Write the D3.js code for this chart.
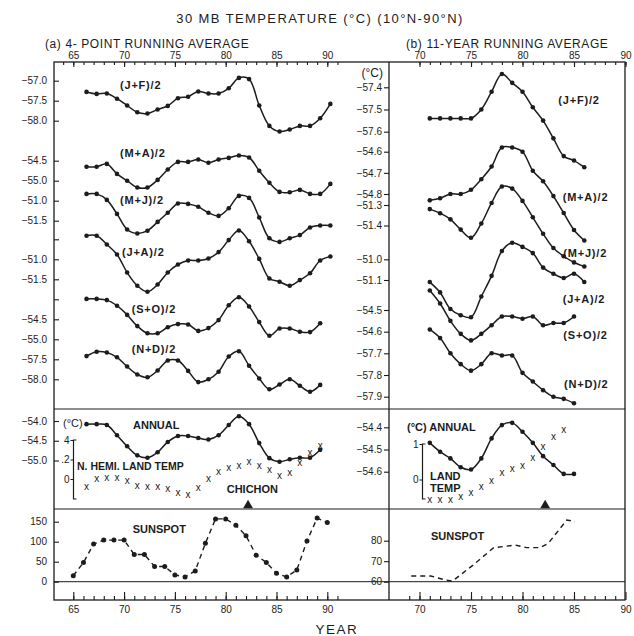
<!DOCTYPE html>
<html>
<head>
<meta charset="utf-8">
<script src="https://cdn.jsdelivr.net/npm/d3@7"></script>
<style>
  body { margin: 0; background: #fff; }
  svg text { font-family: "Liberation Sans", Arial, sans-serif; fill: #1c1c1c; }
</style>
</head>
<body>
<svg id="chart" width="634" height="636"></svg>
<script>
// ---- data ----
// (a) 4-point running average, one point per year from 66
const yearsA = [66,67,68,69,70,71,72,73,74,75,76,77,78,79,80,81,82,83,84,85,86,87,88,89,90]
const jfA = [-57.28,-57.33,-57.32,-57.45,-57.62,-57.79,-57.82,-57.72,-57.63,-57.44,-57.40,-57.27,-57.32,-57.32,-57.19,-56.93,-56.96,-57.62,-58.13,-58.27,-58.22,-58.13,-58.13,-57.94,-57.58]
const maA = [-54.65,-54.65,-54.58,-54.83,-55.00,-55.17,-55.17,-54.98,-54.72,-54.53,-54.53,-54.47,-54.55,-54.47,-54.43,-54.37,-54.42,-54.75,-55.05,-55.28,-55.29,-55.23,-55.33,-55.33,-55.08]
const mjA = [-50.83,-50.83,-50.98,-51.33,-51.72,-51.82,-51.75,-51.53,-51.30,-51.07,-51.08,-51.15,-51.30,-51.38,-51.19,-50.88,-50.93,-51.42,-51.94,-52.03,-51.94,-51.86,-51.67,-51.62,-51.62]
const jaA = [-50.41,-50.41,-50.63,-50.88,-51.33,-51.66,-51.81,-51.63,-51.33,-51.13,-51.03,-51.03,-50.98,-50.82,-50.52,-50.28,-50.55,-50.99,-51.48,-51.56,-51.66,-51.52,-51.35,-51.03,-50.93]
const soA = [-53.99,-53.99,-54.02,-54.16,-54.39,-54.67,-54.85,-54.85,-54.70,-54.62,-54.63,-54.79,-54.72,-54.52,-54.15,-53.95,-54.18,-54.57,-54.91,-54.73,-54.73,-54.81,-54.82,-54.60]
const ndA = [-57.42,-57.31,-57.33,-57.45,-57.68,-57.88,-57.95,-57.78,-57.53,-57.53,-57.79,-58.07,-58.00,-57.81,-57.43,-57.30,-57.66,-57.98,-58.25,-58.13,-58.00,-58.16,-58.31,-58.14]
const annualA = [-54.08,-54.08,-54.10,-54.36,-54.64,-54.87,-54.93,-54.79,-54.53,-54.38,-54.38,-54.43,-54.47,-54.36,-54.10,-53.88,-54.08,-54.56,-54.94,-55.03,-54.97,-54.93,-54.93,-54.73]
const landA = [-0.08,0.00,0.01,0.01,-0.02,-0.07,-0.08,-0.08,-0.10,-0.14,-0.16,-0.09,0.00,0.07,0.12,0.14,0.18,0.14,0.09,0.03,0.06,0.17,0.27,0.34]
const sunYearsA = [65,66,67,68,69,70,71,72,73,74,75,76,77,78,79,80,81,82,83,84,85,86,87,88,89,90]
const sunA = [15,48,94,104,104,104,68,68,38,38,17,12,27,96,157,157,141,115,66,48,21,12,29,102,159,148]

// (b) 11-year running average, one point per year from 71
const yearsB = [71,72,73,74,75,76,77,78,79,80,81,82,83,84,85,86]
const jfB = [-57.54,-57.54,-57.54,-57.54,-57.54,-57.50,-57.42,-57.34,-57.38,-57.42,-57.49,-57.55,-57.63,-57.71,-57.73,-57.76]
const maB = [-54.83,-54.82,-54.80,-54.80,-54.78,-54.73,-54.67,-54.58,-54.58,-54.60,-54.69,-54.74,-54.81,-54.89,-54.97,-55.02]
const mjB = [-51.32,-51.34,-51.37,-51.42,-51.46,-51.39,-51.29,-51.21,-51.22,-51.28,-51.36,-51.44,-51.51,-51.55,-51.58,-51.60]
const jaB = [-51.11,-51.16,-51.24,-51.27,-51.28,-51.18,-51.08,-50.96,-50.92,-50.94,-50.97,-51.04,-51.07,-51.09,-51.07,-51.11]
const soB = [-54.41,-54.47,-54.55,-54.61,-54.64,-54.61,-54.57,-54.53,-54.53,-54.54,-54.53,-54.57,-54.56,-54.56,-54.53]
const ndB = [-57.59,-57.63,-57.70,-57.75,-57.78,-57.75,-57.70,-57.71,-57.71,-57.79,-57.83,-57.87,-57.90,-57.91,-57.93]
const annualB = [-54.47,-54.51,-54.54,-54.58,-54.59,-54.54,-54.45,-54.39,-54.38,-54.42,-54.47,-54.53,-54.57,-54.61,-54.61]
const landB = [-0.57,-0.57,-0.57,-0.50,-0.38,-0.21,-0.03,0.18,0.30,0.39,0.60,0.91,1.19,1.40]
const sunYearsB = [69.2,71.1,72.6,73.2,75.2,77.2,78.1,79.3,80.4,81.7,82.5,84.3,85.1]
const sunB = [62.8,62.8,60.7,60.3,68.1,76.6,77.1,77.9,76.6,76.6,78.7,90.1,89.3]

const chichonYear = 82.2

// tick labels
const majorYearsA = [65,70,75,80,85,90]
const majorYearsB = [70,75,80,85,90]
const seasonLabels = ["(J+F)/2","(M+A)/2","(M+J)/2","(J+A)/2","(S+O)/2","(N+D)/2"]
const ticksA = [[-57.0,-57.5,-58.0],[-54.5,-55.0],[-51.0,-51.5],[-51.0,-51.5],[-54.5,-55.0],[-57.5,-58.0]]
const ticksB = [[-57.4,-57.5,-57.6],[-54.6,-54.7,-54.8],[-51.3,-51.4],[-51.0,-51.1],[-54.5,-54.6],[-57.7,-57.8,-57.9]]
const annualTicksA = [-54.0,-54.5,-55.0]
const annualTicksB = [-54.4,-54.5,-54.6]
const sunTicksA = [150,100,50,0]
const sunTicksB = [80,70,60]
const landTicksA = [0.4,0.2,0]
const landTicksB = [1,0]

// ---- layout ----
const ink = "#1c1c1c"
const frame = {left: 54, mid: 389, right: 625, top: 62, row1: 409, row2: 509, bottom: 600}
const shiftA = 0.3   // 4-point averages sit a little past the year mark

const svg = d3.select("#chart")

const xA = d3.scaleLinear().domain([65, 90]).range([73.3, 327.3])
const xB = d3.scaleLinear().domain([70, 90]).range([419.5, 625.5])

// each curve has its own little temperature scale: [value, pixel, value, pixel]
const anchorsA = [[-57.0,80.7,-58.0,120.7],[-54.5,160.7,-55.0,180.7],[-51.0,200.7,-51.5,220.7],
                  [-51.0,259.3,-51.5,279.3],[-54.5,319.3,-55.0,339.3],[-57.5,359.3,-58.0,379.3]]
const anchorsB = [[-57.4,87.3,-57.6,131.7],[-54.6,151.7,-54.8,194],[-51.3,205,-51.4,225.5],
                  [-51.0,259.3,-51.1,280],[-54.5,310,-54.6,331.7],[-57.7,353.3,-57.9,396.7]]
const labelPosA = [[120,85],[120,152.7],[120,200],[122,252.3],[131.7,309.3],[131.7,349]]
const labelPosB = [[558.3,100],[562.7,196.7],[563.3,253.3],[562.7,299],[563.3,335],[564,384]]

const yScale = a => d3.scaleLinear().domain([a[0], a[2]]).range([a[1], a[3]])

const fmt1 = d3.format(".1f")

/* frame and section lines */
svg.append("rect")
   .attr("x", frame.left).attr("y", frame.top)
   .attr("width", frame.right - frame.left).attr("height", frame.bottom - frame.top)
   .attr("fill", "none").attr("stroke", ink).attr("stroke-width", 1.3)

svg.append("line").attr("x1", frame.mid).attr("x2", frame.mid)
   .attr("y1", frame.top).attr("y2", frame.bottom).attr("stroke", ink).attr("stroke-width", 1.3)

;[frame.row1, frame.row2].forEach(y => {
  svg.append("line").attr("x1", frame.left).attr("x2", frame.right)
     .attr("y1", y).attr("y2", y).attr("stroke", ink).attr("stroke-width", 1.1)
})

/* helper: an axis with the domain path removed */
function drawAxis(axis, tx, ty, size) {
  const g = svg.append("g")
               .attr("transform", "translate(" + tx + "," + ty + ")")
               .attr("font-size", size || 12)
               .style("color", ink)
               .call(axis)
  g.select(".domain").remove()
  g.selectAll("line").attr("stroke-width", 1.1)
  return g
}

/* year axes, top and bottom */
drawAxis(d3.axisTop(xA).tickValues(d3.range(64, 92)).tickSize(-3).tickFormat(""), 0, frame.top)
drawAxis(d3.axisTop(xA).tickValues(majorYearsA).tickSize(-5).tickPadding(3), 0, frame.top, 12.5)
drawAxis(d3.axisTop(xB).tickValues(d3.range(70, 91)).tickSize(-3).tickFormat(""), 0, frame.top)
drawAxis(d3.axisTop(xB).tickValues(majorYearsB).tickSize(-5).tickPadding(3), 0, frame.top, 12.5)

drawAxis(d3.axisBottom(xA).tickValues(d3.range(65, 92)).tickSize(-4).tickFormat(""), 0, frame.bottom)
drawAxis(d3.axisBottom(xA).tickValues(majorYearsA).tickSize(-8).tickPadding(6), 0, frame.bottom, 12.5)
drawAxis(d3.axisBottom(xB).tickValues(d3.range(69, 90)).tickSize(-4).tickFormat(""), 0, frame.bottom)
drawAxis(d3.axisBottom(xB).tickValues(majorYearsB).tickSize(-8).tickPadding(6), 0, frame.bottom, 12.5)

// extra unlabelled ticks on the left edge
drawAxis(d3.axisLeft(yScale(anchorsA[3])).tickValues([-50.5, -52.0]).tickSize(-5).tickFormat(""), frame.left, 0)

/* line + dots */
const dot = 2.3
function drawSeries(years, values, x, y, shift) {
  const line = d3.line()
                 .x((d, i) => x(years[i] + shift))
                 .y(d => y(d))
                 .curve(d3.curveCatmullRom.alpha(0.5))
  svg.append("path").datum(values)
     .attr("d", line).attr("fill", "none").attr("stroke", ink).attr("stroke-width", 1.5)
  svg.append("g").selectAll("circle").data(values).enter().append("circle")
     .attr("cx", (d, i) => x(years[i] + shift))
     .attr("cy", d => y(d))
     .attr("r", dot).attr("fill", ink)
}

function label(txt, x, y, size, weight, anchor) {
  return svg.append("text").attr("x", x).attr("y", y).attr("dy", "0.35em")
            .attr("font-size", size || 11).attr("font-weight", weight || "bold")
            .attr("text-anchor", anchor || "start").text(txt)
}

/* seasonal curves, panel (a) and (b) */
const seriesA = [jfA, maA, mjA, jaA, soA, ndA]
const seriesB = [jfB, maB, mjB, jaB, soB, ndB]

seriesA.forEach((vals, k) => {
  const y = yScale(anchorsA[k])
  drawAxis(d3.axisLeft(y).tickValues(ticksA[k]).tickSize(-5).tickPadding(7).tickFormat(fmt1), frame.left, 0)
  drawSeries(yearsA, vals, xA, y, shiftA)
  label(seasonLabels[k], labelPosA[k][0], labelPosA[k][1]).attr("letter-spacing", 0.8)
})

seriesB.forEach((vals, k) => {
  const y = yScale(anchorsB[k])
  drawAxis(d3.axisLeft(y).tickValues(ticksB[k]).tickSize(5).tickPadding(2).tickFormat(fmt1), frame.mid, 0)
  drawSeries(yearsB, vals, xB, y, 0)
  label(seasonLabels[k], labelPosB[k][0], labelPosB[k][1]).attr("letter-spacing", 0.8)
})

label("(°C)", 383, 72.7, 12, "normal", "end")

/* annual + land temperature */
const yAnnA = yScale([-54.0, 421, -55.0, 460.5])
const yAnnB = yScale([-54.4, 427.3, -54.6, 471.7])
drawAxis(d3.axisLeft(yAnnA).tickValues(annualTicksA).tickSize(-5).tickPadding(7).tickFormat(fmt1), frame.left, 0)
drawAxis(d3.axisLeft(yAnnB).tickValues(annualTicksB).tickSize(5).tickPadding(2).tickFormat(fmt1), frame.mid, 0)
drawSeries(yearsA, annualA, xA, yAnnA, shiftA)
drawSeries(yearsB, annualB, xB, yAnnB, 0)

const yLandA = yScale([0, 479, 0.4, 440])
const yLandB = yScale([0, 479.5, 1, 444])

// bracket style mini axes
function bracket(x, y0, y1, y, ticks, fmt) {
  svg.append("path")
     .attr("d", "M" + (x + 3) + "," + y0 + "H" + x + "V" + y1 + "H" + (x + 3))
     .attr("fill", "none").attr("stroke", ink).attr("stroke-width", 1.2)
  const g = svg.append("g").attr("font-size", 8).style("color", ink)
               .attr("transform", "translate(" + x + ",0)")
               .call(d3.axisLeft(y).tickValues(ticks).tickSize(3).tickPadding(1).tickFormat(fmt))
  g.select(".domain").remove()
}
bracket(73.5, 440, 499, yLandA, landTicksA, d => d === 0 ? "0" : d === 0.4 ? "4" : ".2")
bracket(422.5, 444, 499, yLandB, landTicksB, d3.format("d"))

svg.append("g").selectAll("text").data(landA).enter().append("text")
   .attr("x", (d, i) => xA(yearsA[i] + shiftA)).attr("y", d => yLandA(d))
   .attr("dy", "0.32em").attr("text-anchor", "middle").attr("font-size", 10).text("x")
svg.append("g").selectAll("text").data(landB).enter().append("text")
   .attr("x", (d, i) => xB(yearsB[i])).attr("y", d => yLandB(d))
   .attr("dy", "0.32em").attr("text-anchor", "middle").attr("font-size", 10).text("x")

// El Chichon marker
;[xA(chichonYear), xB(chichonYear)].forEach(cx => {
  svg.append("path").attr("d", d3.symbol(d3.symbolTriangle, 42)())
     .attr("transform", "translate(" + cx + ",505.5)").attr("fill", ink)
})

label("(°C)", 63, 423.3, 11, "normal")
label("ANNUAL", 133, 425, 11)
label("N. HEMI. LAND TEMP", 77, 466.5, 10.5)
label("CHICHON", 226.7, 489.3, 11)
label("(°C)  ANNUAL", 407, 426.7, 11)
label("LAND", 430, 476, 11)
label("TEMP", 430, 487.7, 11)

/* sunspot */
const ySunA = yScale([0, 581.7, 150, 521.7])
const ySunB = yScale([60, 581.7, 80, 540.7])
drawAxis(d3.axisLeft(ySunA).tickValues(sunTicksA).tickSize(-5).tickPadding(7).tickFormat(d3.format("d")), frame.left, 0, 12.5)
drawAxis(d3.axisLeft(ySunB).tickValues(sunTicksB).tickSize(5).tickPadding(2).tickFormat(d3.format("d")), frame.mid, 0, 12.5)

svg.append("line").attr("x1", frame.left).attr("x2", frame.right)
   .attr("y1", ySunA(0)).attr("y2", ySunA(0)).attr("stroke", ink).attr("stroke-width", 1)

svg.append("path").datum(sunA)
   .attr("d", d3.line().x((d, i) => xA(sunYearsA[i])).y(d => ySunA(d)))
   .attr("fill", "none").attr("stroke", ink).attr("stroke-width", 1.4).attr("stroke-dasharray", "5,4")
svg.append("g").selectAll("circle").data(sunA).enter().append("circle")
   .attr("cx", (d, i) => xA(sunYearsA[i])).attr("cy", d => ySunA(d)).attr("r", 2.5).attr("fill", ink)

svg.append("path").datum(sunB)
   .attr("d", d3.line().x((d, i) => xB(sunYearsB[i])).y(d => ySunB(d)))
   .attr("fill", "none").attr("stroke", ink).attr("stroke-width", 1.4).attr("stroke-dasharray", "5,4")

label("SUNSPOT", 132.7, 529.3, 11)
label("SUNSPOT", 431, 535.7, 11)

/* titles */
svg.append("text").attr("x", 320).attr("y", 23).attr("text-anchor", "middle")
   .attr("font-size", 13).attr("letter-spacing", 1.4).text("30 MB TEMPERATURE (°C) (10°N-90°N)")
svg.append("text").attr("x", 45).attr("y", 48).attr("font-size", 12).attr("letter-spacing", 0.6)
   .text("(a) 4- POINT RUNNING AVERAGE")
svg.append("text").attr("x", 406).attr("y", 48).attr("font-size", 12).attr("letter-spacing", 0.6)
   .text("(b) 11-YEAR RUNNING AVERAGE")
svg.append("text").attr("x", 337).attr("y", 634).attr("text-anchor", "middle")
   .attr("font-size", 13.5).attr("letter-spacing", 1.5).text("YEAR")
</script>
</body>
</html>
